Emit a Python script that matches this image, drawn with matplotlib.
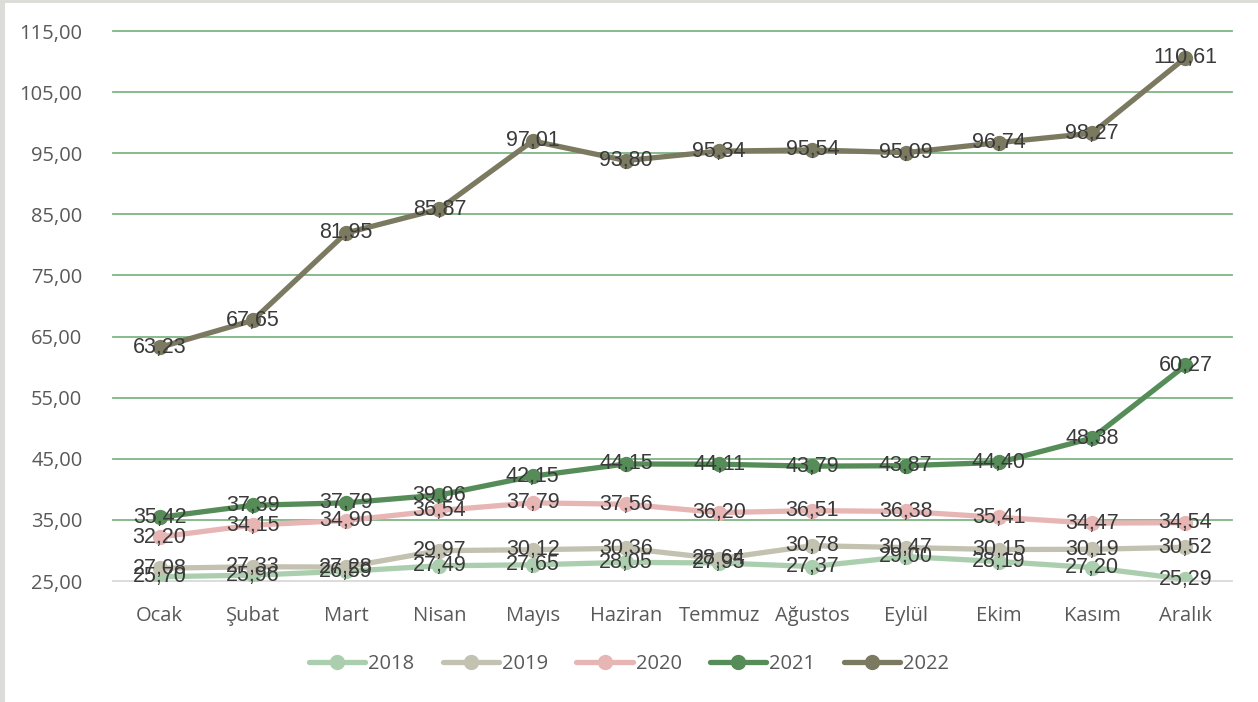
import matplotlib
matplotlib.use("Agg")
import matplotlib.pyplot as plt
from matplotlib.patches import Rectangle
from matplotlib.ticker import FuncFormatter

months = ["Ocak", "Şubat", "Mart", "Nisan", "Mayıs", "Haziran",
          "Temmuz", "Ağustos", "Eylül", "Ekim", "Kasım", "Aralık"]

y2018 = [25.70, 25.96, 26.59, 27.49, 27.65, 28.05, 27.95, 27.37, 29.00, 28.19, 27.20, 25.29]
y2019 = [27.08, 27.33, 27.28, 29.97, 30.12, 30.36, 28.64, 30.78, 30.47, 30.15, 30.19, 30.52]
y2020 = [32.20, 34.15, 34.90, 36.54, 37.79, 37.56, 36.20, 36.51, 36.38, 35.41, 34.47, 34.54]
y2021 = [35.42, 37.39, 37.79, 39.06, 42.15, 44.15, 44.11, 43.79, 43.87, 44.40, 48.38, 60.27]
y2022 = [63.23, 67.65, 81.95, 85.87, 97.01, 93.80, 95.34, 95.54, 95.09, 96.74, 98.27, 110.61]

series = [
    ("2018", y2018, "#abcfae"),
    ("2019", y2019, "#c3c1b0"),
    ("2020", y2020, "#e8b5b5"),
    ("2021", y2021, "#558c58"),
    ("2022", y2022, "#7b7960"),
]

yticks = [25, 35, 45, 55, 65, 75, 85, 95, 105, 115]

W, H = 1258, 702
fig = plt.figure(figsize=(W / 100, H / 100), dpi=100)
fig.patch.set_facecolor("white")

# light frame on the left and top edges
fig.patches.append(Rectangle((0, 0), 5 / W, 1, transform=fig.transFigure,
                             facecolor="#dcdcd8", edgecolor="none", zorder=0))
fig.patches.append(Rectangle((0, 1 - 3 / H), 1, 3 / H, transform=fig.transFigure,
                             facecolor="#dcdcd8", edgecolor="none", zorder=0))

left, right, top, bottom = 113, 1232, 31, 581
ax = fig.add_axes([left / W, 1 - bottom / H, (right - left) / W, (bottom - top) / H])

x = list(range(len(months)))
label_font = ["Liberation Sans Narrow", "Liberation Sans", "DejaVu Sans"]
tick_font = ["Open Sans", "DejaVu Sans"]

for name, vals, col in series:
    ax.plot(x, vals, color=col, lw=3.8, marker="o", ms=10, solid_capstyle="round",
            label=name, zorder=3)
    for xi, v in zip(x, vals):
        ax.text(xi, v, f"{v:.2f}".replace(".", ","), ha="center", va="center",
                fontsize=15.5, color="#3a3a3a", family=label_font, zorder=5)

ax.set_xlim(-0.5, len(months) - 0.5)
ax.set_ylim(25, 115)
ax.set_yticks(yticks)
ax.yaxis.set_major_formatter(FuncFormatter(lambda v, p: f"{v:.2f}".replace(".", ",")))
ax.set_xticks(x)
ax.set_xticklabels(months)

for t in ax.get_yticklabels() + ax.get_xticklabels():
    t.set_family(tick_font)
    t.set_fontsize(14.5)
    t.set_color("#595959")

ax.tick_params(axis="both", length=0)
ax.tick_params(axis="y", pad=22)
ax.tick_params(axis="x", pad=18)

for yv in yticks[1:]:
    ax.axhline(yv, color="#7fb583", lw=1.3, zorder=1, clip_on=False)
ax.axhline(25, color="#d9d9d9", lw=1.3, zorder=1, clip_on=False)

for s in ax.spines.values():
    s.set_visible(False)

leg = fig.legend(loc="center", bbox_to_anchor=(0.5, 1 - 664 / H), ncol=5,
                 frameon=False, handlelength=2.8, columnspacing=1.4,
                 handletextpad=0.15, prop={"family": tick_font, "size": 14.5})
for t in leg.get_texts():
    t.set_color("#595959")

fig.savefig("out.png", dpi=100)
